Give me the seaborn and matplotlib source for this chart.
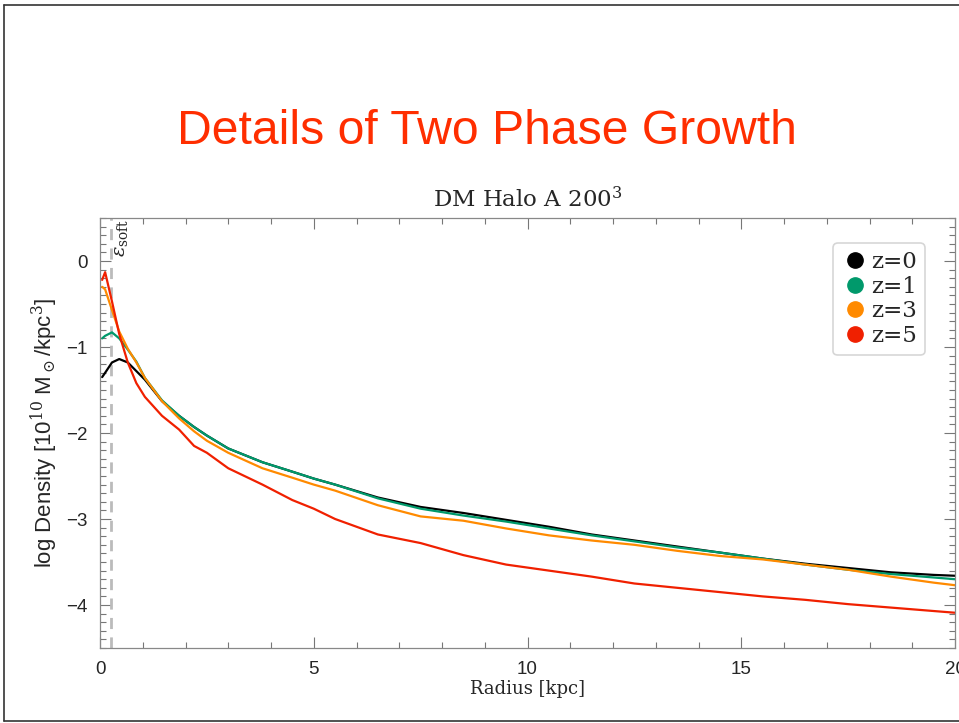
import numpy as np
import pandas as pd
import seaborn as sns
import matplotlib
matplotlib.use("Agg")
import matplotlib.pyplot as plt
from matplotlib.lines import Line2D
from matplotlib.ticker import MultipleLocator

# Radial density profiles of the dark matter halo at several redshifts
radius = [0.05, 0.12, 0.28, 0.45, 0.65, 0.85, 1.05, 1.45, 1.85, 2.2, 2.5, 3.0,
          3.8, 4.5, 5.0, 5.5, 6.5, 7.5, 8.5, 9.5, 10.5, 11.5, 12.5, 13.5,
          14.5, 15.5, 16.5, 17.5, 18.5, 19.5, 20.0]

dens_z0 = [-1.35, -1.30, -1.18, -1.14, -1.18, -1.28, -1.38, -1.63, -1.80, -1.93,
           -2.03, -2.18, -2.34, -2.45, -2.53, -2.60, -2.75, -2.86, -2.93, -3.01,
           -3.09, -3.18, -3.25, -3.32, -3.39, -3.46, -3.52, -3.57, -3.62, -3.65,
           -3.66]
dens_z1 = [-0.90, -0.87, -0.83, -0.90, -1.03, -1.17, -1.36, -1.62, -1.80, -1.93,
           -2.03, -2.18, -2.34, -2.45, -2.53, -2.60, -2.76, -2.88, -2.96, -3.03,
           -3.11, -3.19, -3.26, -3.33, -3.39, -3.46, -3.53, -3.59, -3.64, -3.68,
           -3.70]
dens_z3 = [-0.30, -0.33, -0.57, -0.82, -1.02, -1.18, -1.36, -1.63, -1.83, -1.98,
           -2.09, -2.23, -2.41, -2.52, -2.60, -2.67, -2.84, -2.97, -3.02, -3.11,
           -3.19, -3.25, -3.30, -3.37, -3.43, -3.47, -3.53, -3.59, -3.67, -3.74,
           -3.77]
dens_z5 = [-0.22, -0.13, -0.47, -0.85, -1.18, -1.42, -1.58, -1.80, -1.96, -2.15,
           -2.23, -2.41, -2.60, -2.78, -2.88, -3.00, -3.18, -3.28, -3.42, -3.53,
           -3.60, -3.67, -3.75, -3.80, -3.85, -3.90, -3.94, -3.99, -4.03, -4.07,
           -4.09]

labels = ["z=0", "z=1", "z=3", "z=5"]
colors = ["#000000", "#00996B", "#FF8A00", "#F02000"]
eps_soft = 0.25

frames = []
for lab, d in zip(labels, [dens_z0, dens_z1, dens_z3, dens_z5]):
    frames.append(pd.DataFrame({"radius": radius, "density": d, "z": lab}))
df = pd.concat(frames, ignore_index=True)

sns.set_theme(style="ticks")
plt.rcParams["font.family"] = ["DejaVu Serif"]
plt.rcParams["mathtext.fontset"] = "dejavuserif"

fig = plt.figure(figsize=(9.59, 7.23), dpi=100)
fig.patch.set_facecolor("white")

# slide frame
frame_kw = dict(color="#333333", lw=1.2, transform=fig.transFigure)
fig.add_artist(Line2D([4 / 959, 4 / 959], [1 - 5 / 723, 1 - 721 / 723], **frame_kw))
fig.add_artist(Line2D([4 / 959, 1.0], [1 - 5 / 723, 1 - 5 / 723], **frame_kw))
fig.add_artist(Line2D([4 / 959, 1.0], [1 - 721 / 723, 1 - 721 / 723], **frame_kw))

fig.text(487 / 959, 1 - 132 / 723, "Details of Two Phase Growth",
         family="Liberation Sans", color="#FF2E00", fontsize=34.7,
         ha="center", va="center")

ax = fig.add_axes([100 / 959, 75 / 723, 855 / 959, 430 / 723])

# softening length marker
ax.axvline(eps_soft, color="#BBBBBB", lw=2, ls=(0, (4, 3)), zorder=1)

sns.lineplot(data=df, x="radius", y="density", hue="z", palette=colors,
             hue_order=labels, lw=1.6, ax=ax, legend=False, sort=False,
             estimator=None)

ax.set_xlim(0, 20)
ax.set_ylim(-4.5, 0.5)
ax.xaxis.set_major_locator(MultipleLocator(5))
ax.xaxis.set_minor_locator(MultipleLocator(1))
ax.yaxis.set_major_locator(MultipleLocator(1))
ax.yaxis.set_minor_locator(MultipleLocator(0.1))
ax.set_xticks([0, 5, 10, 15, 20])
ax.set_xticklabels(["0", "5", "10", "15", "20"])
ax.set_yticks([0, -1, -2, -3, -4])
ax.set_yticklabels(["0", "\u22121", "\u22122", "\u22123", "\u22124"])
ax.tick_params(which="both", direction="in", top=True, right=True,
               color="#777777", width=0.8)
ax.tick_params(which="major", length=8, labelsize=13.5, pad=9)
ax.tick_params(which="minor", length=4)
for lab in ax.get_xticklabels() + ax.get_yticklabels():
    lab.set_family("Liberation Sans")
for s in ax.spines.values():
    s.set_color("#888888")
    s.set_linewidth(0.9)

ax.set_title("DM Halo A 200$^3$", fontsize=16.5, pad=8)
ax.set_xlabel("Radius [kpc]", fontsize=13, labelpad=2)
ax.set_ylabel("log Density [10$^{10}$ M$_\\odot$/kpc$^3$]", fontsize=16,
              family="Liberation Sans", labelpad=4)

ax.text(eps_soft + 0.24, 0.27, "$\\epsilon_{\\rm soft}$", rotation=90,
        fontsize=14, ha="center", va="center", fontweight="bold")

handles = [Line2D([], [], marker="o", ls="none", color=c, markersize=11)
           for c in colors]
leg = ax.legend(handles, labels, loc="upper right", fontsize=16.5,
                frameon=True, handletextpad=0.1, borderpad=0.35,
                labelspacing=0.12, bbox_to_anchor=(0.965, 0.942),
                borderaxespad=0, handlelength=1.2, fancybox=True)
leg.get_frame().set_edgecolor("#CCCCCC")
leg.get_frame().set_linewidth(1.2)

fig.savefig("out.png", dpi=100, facecolor="white")
